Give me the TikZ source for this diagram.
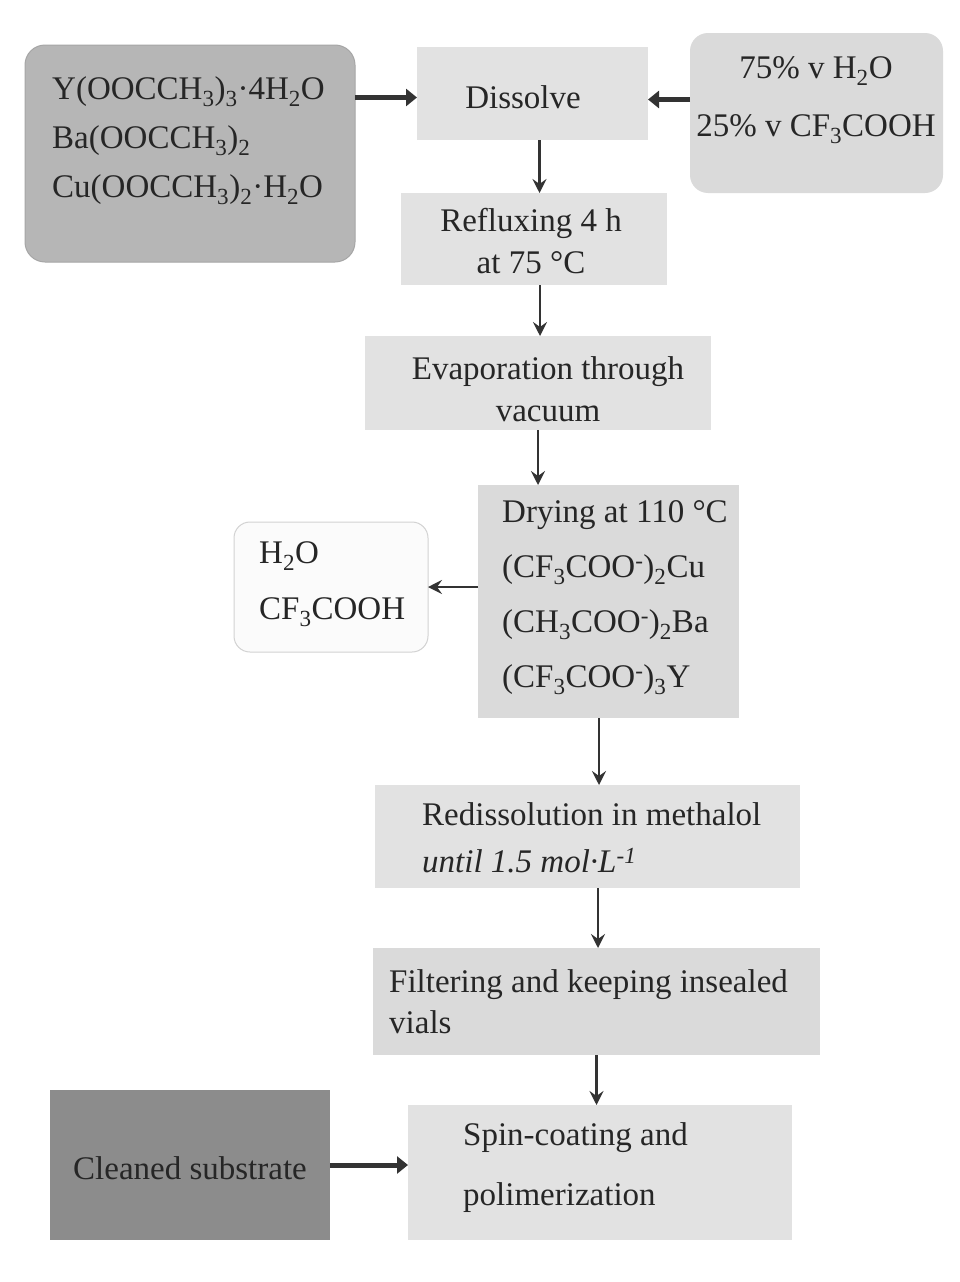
\documentclass[tikz,border=0pt]{standalone}
\usepackage{fontspec}
\setmainfont{Liberation Serif}
\usetikzlibrary{arrows.meta}
\newcommand\chs[1]{\textsubscript{#1}}
\newcommand\chsup[1]{\textsuperscript{#1}}
\definecolor{txtcol}{HTML}{262626}
\definecolor{boxlight}{HTML}{E2E2E2}
\definecolor{boxmid}{HTML}{DADADA}
\definecolor{boxdark}{HTML}{B6B6B6}
\definecolor{boxdeep}{HTML}{8C8C8C}
\definecolor{arrcol}{HTML}{333333}
\begin{document}
\begin{tikzpicture}[x=1pt,y=-1pt,
  box/.style={rectangle, inner sep=0pt, outer sep=0pt},
  lightbox/.style={box, fill=boxlight},
  txt/.style={inner sep=0pt, text=txtcol},
  fs/.style={font=\fontsize{33}{#1}\selectfont},
  thinarrow/.style={draw=arrcol, line width=2.2pt, -{Stealth[length=14pt,width=14pt,inset=5pt]}},
  thickarrow/.style={draw=arrcol, line width=5pt, -{Triangle[length=11pt,width=17pt]}}
]
\useasboundingbox (0,0) rectangle (959,1282);
\fill[white] (0,0) rectangle (959,1282);

% boxes
\node[box, fill=boxdark, draw=gray!70, line width=1pt, rounded corners=20pt, minimum width=330pt, minimum height=217pt] (reag) at (190,153.5) {};
\node[lightbox, minimum width=231pt, minimum height=93pt] (dissolve) at (532.5,93.5) {};
\node[box, fill=boxmid, rounded corners=18pt, minimum width=253pt, minimum height=160pt] (solvent) at (816.5,113) {};
\node[lightbox, minimum width=266pt, minimum height=92pt] (reflux) at (534,239) {};
\node[lightbox, minimum width=346pt, minimum height=94pt] (evap) at (538,383) {};
\node[box, fill=boxmid, minimum width=261pt, minimum height=233pt] (drying) at (608.5,601.5) {};
\node[box, fill=gray!3, draw=gray!35, line width=1pt, rounded corners=16pt, minimum width=194pt, minimum height=130pt] (waste) at (331,587) {};
\node[lightbox, minimum width=425pt, minimum height=103pt] (redis) at (587.5,836.5) {};
\node[lightbox, fill=boxmid, minimum width=447pt, minimum height=107pt] (filter) at (596.5,1001.5) {};
\node[box, fill=boxdeep, minimum width=280pt, minimum height=150pt] (clean) at (190,1165) {};
\node[lightbox, minimum width=384pt, minimum height=135pt] (spin) at (600,1172.5) {};

% texts
\node[txt, fs=49, align=left, anchor=west] (treag) at (52,141) {Y(OOCCH\chs{3})\chs{3}·4H\chs{2}O\\Ba(OOCCH\chs{3})\chs{2}\\Cu(OOCCH\chs{3})\chs{2}·H\chs{2}O};
\node[txt, fs=42] (tdissolve) at (523,97) {Dissolve};
\node[txt, fs=58, align=center] (tsolvent) at (816,100) {75\% v H\chs{2}O\\25\% v CF\chs{3}COOH};
\node[txt, fs=42, align=center] (treflux) at (531,241) {Refluxing 4 h\\at 75 °C};
\node[txt, fs=42, align=center] (tevap) at (548,389) {Evaporation through\\vacuum};
\node[txt, fs=55, align=left, anchor=west] (tdrying) at (502,598) {Drying at 110 °C\\(CF\chs{3}COO\chsup{-})\chs{2}Cu\\(CH\chs{3}COO\chsup{-})\chs{2}Ba\\(CF\chs{3}COO\chsup{-})\chs{3}Y};
\node[txt, fs=56, align=left, anchor=west] (twaste) at (259,584) {H\chs{2}O\\CF\chs{3}COOH};
\node[txt, fs=47, align=left, anchor=west] (tredis) at (422,838) {Redissolution in methalol\\\textit{until 1.5 mol·L\chsup{-1}}};
\node[txt, fs=41, align=left, anchor=west] (tfilter) at (389,1002) {Filtering and keeping insealed\\vials};
\node[txt, fs=42] (tclean) at (190,1168) {Cleaned substrate};
\node[txt, fs=60, align=left, anchor=west] (tspin) at (463,1168) {Spin-coating and\\polimerization};

% connectors
\draw[thickarrow] ([yshift=-4pt]dissolve.west -| reag.east) -- ([yshift=-4pt]dissolve.west);
\draw[thickarrow] ([yshift=-6pt]dissolve.east -| solvent.west) -- ([yshift=-6pt]dissolve.east);
\draw[thinarrow] ([xshift=7pt]dissolve.south) -- ([xshift=7pt]dissolve.south |- reflux.north);
\draw[thinarrow] ([xshift=6pt]reflux.south) -- ([xshift=6pt]reflux.south |- evap.north);
\draw[thinarrow] (evap.south) -- (evap.south |- drying.north);
\draw[thinarrow] (waste.east -| drying.west) -- (waste.east);
\draw[thinarrow] ([xshift=-9.5pt]drying.south) -- ([xshift=-9.5pt]drying.south |- redis.north);
\draw[thinarrow] ([xshift=10.5pt]redis.south) -- ([xshift=10.5pt]redis.south |- filter.north);
\draw[thinarrow] (filter.south) -- (filter.south |- spin.north);
\draw[thickarrow] (clean.east) -- (clean.east -| spin.west);
\end{tikzpicture}
\end{document}
